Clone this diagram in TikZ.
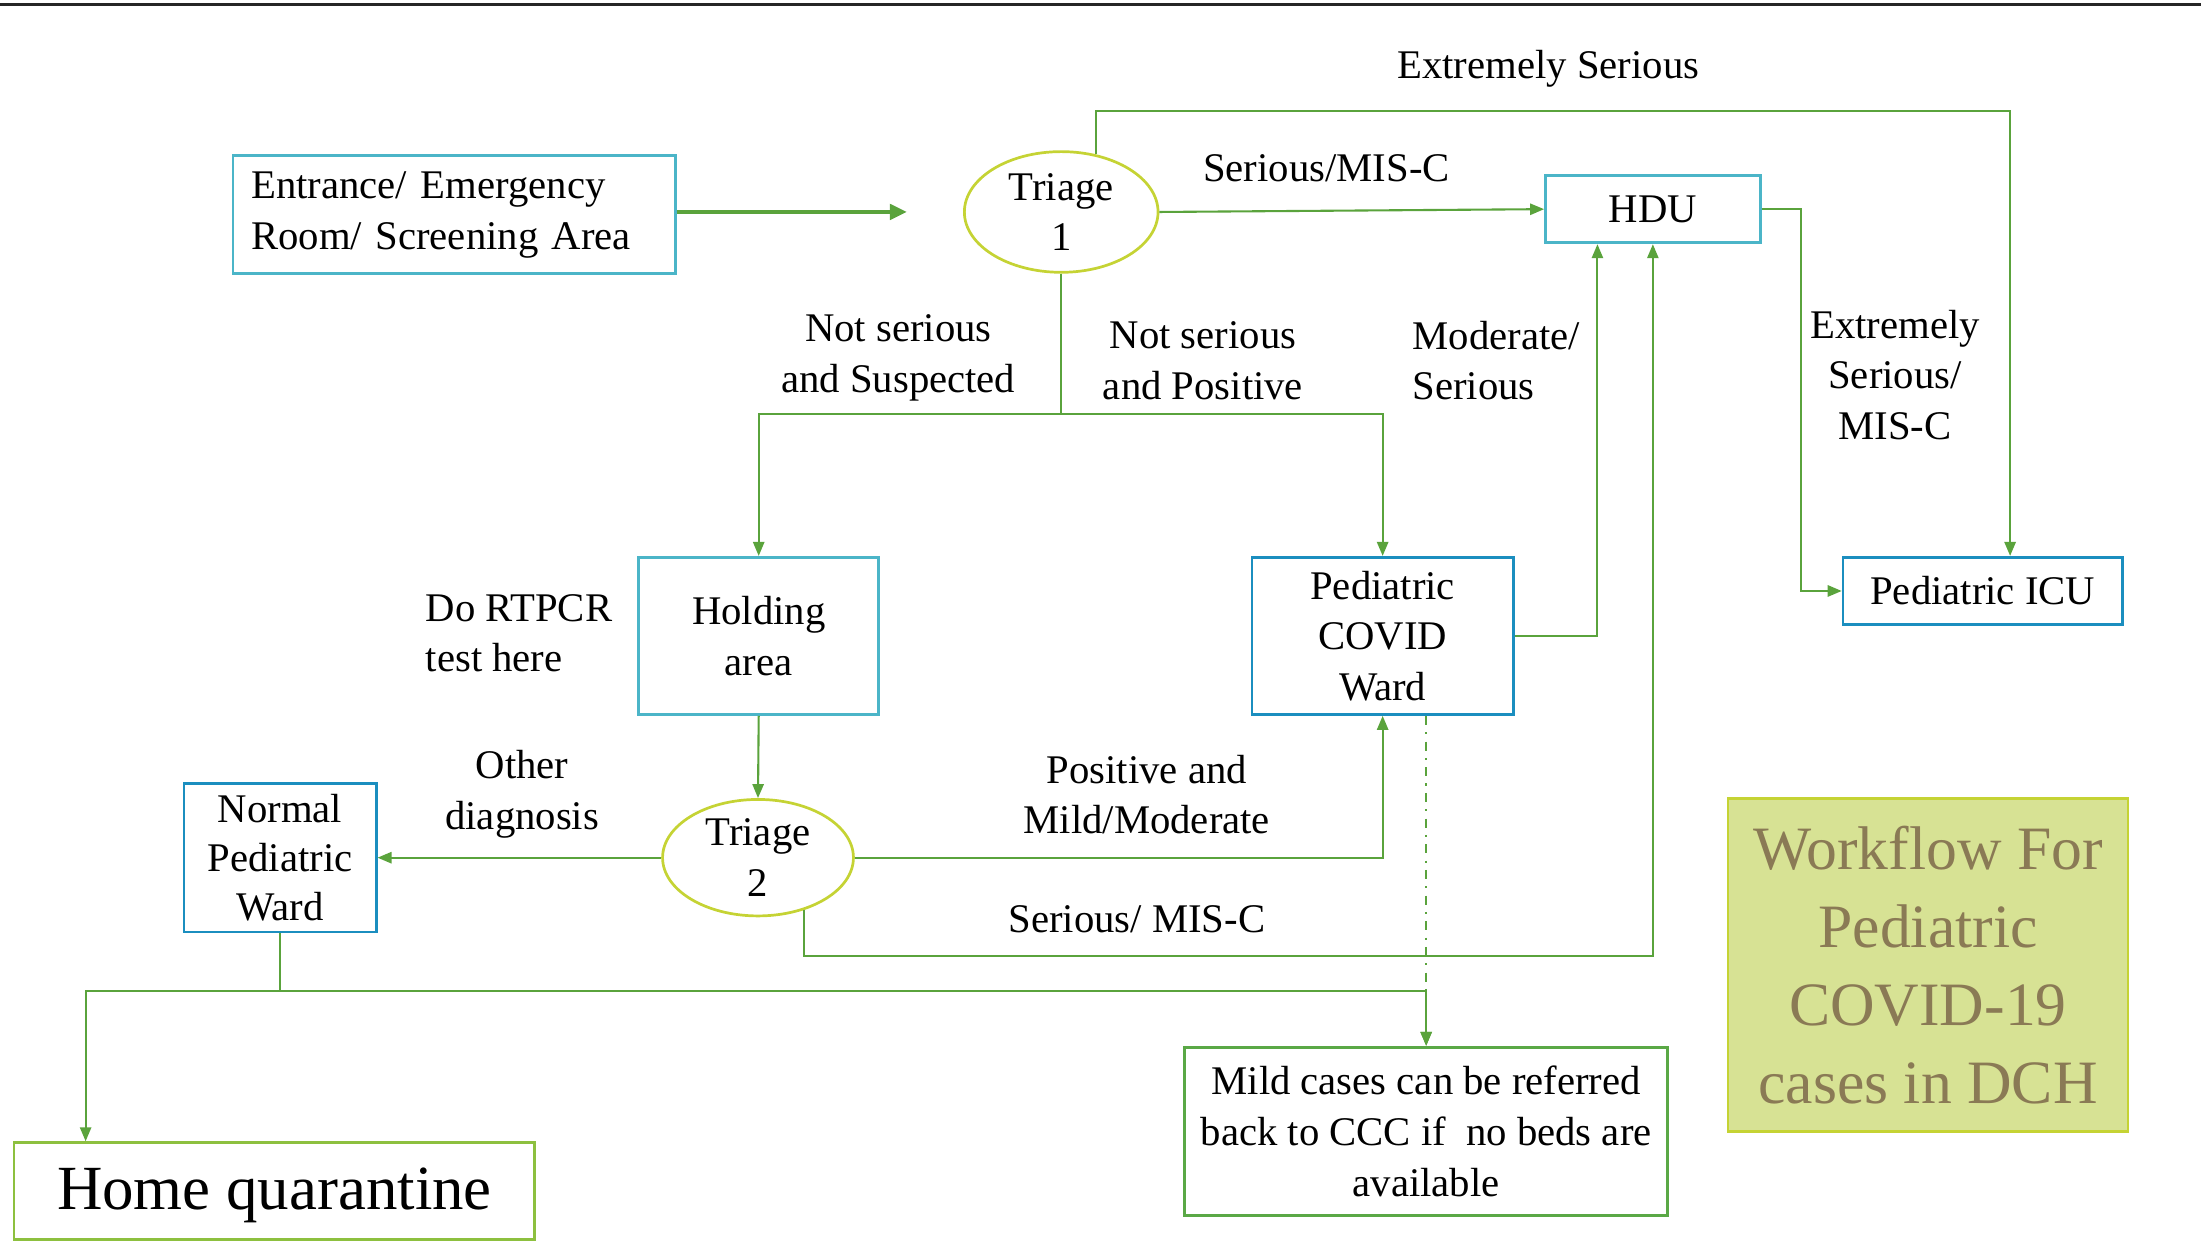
\documentclass[tikz,border=0pt]{standalone}
\usepackage{fontspec}
\setmainfont{Liberation Serif}
\usetikzlibrary{shapes.geometric,arrows.meta,calc}
\definecolor{greenC}{HTML}{5AA33C}
\definecolor{cyanC}{HTML}{4BB5C8}
\definecolor{blueC}{HTML}{1B8EBF}
\definecolor{ygC}{HTML}{C5D334}
\definecolor{homeC}{HTML}{8DC03F}
\definecolor{mildC}{HTML}{5AA846}
\definecolor{titleFill}{HTML}{D7E294}
\definecolor{titleText}{HTML}{8A7A55}
\begin{document}
\begin{tikzpicture}[x=0.02cm,y=-0.02cm,
  mainfont/.style={font=\fontsize{16.5}{20.5}\selectfont},
  txt/.style={mainfont, align=center, inner sep=0pt},
  cbox/.style={draw=cyanC, line width=1.1pt, inner sep=0pt, align=center, mainfont},
  bbox/.style={cbox, draw=blueC},
  gbox/.style={cbox, draw=mildC},
  tri/.style={ellipse, draw=ygC, line width=1.1pt, inner sep=0pt, align=center, mainfont},
  conn/.style={draw=greenC, line width=0.85pt, -{Triangle[length=0.2cm,width=0.16cm]}},
  ln/.style={draw=greenC, line width=0.85pt}
]
\useasboundingbox (0,0) rectangle (1568,894);
\draw[line width=1.3pt, black!85] (0,3) -- (1568,3);

% nodes
\node[cbox, minimum width=6.3cm, minimum height=1.68cm, align=left, text width=5.78cm] (entr) at (323.5,153) {Entrance/ Emergency\\Room/ Screening Area};
\node[tri, minimum width=2.76cm, minimum height=1.72cm] (tri1) at (756,151) {Triage\\1};
\node[cbox, minimum width=3.06cm, minimum height=0.96cm] (hdu) at (1177.5,149) {HDU};
\node[bbox, minimum width=3.98cm, minimum height=0.96cm] (icu) at (1412.5,421) {Pediatric ICU};
\node[cbox, minimum width=3.42cm, minimum height=2.24cm] (hold) at (540.5,453) {Holding\\area};
\node[bbox, minimum width=3.72cm, minimum height=2.24cm] (pcw) at (985,453) {Pediatric\\COVID\\Ward};
\node[tri, minimum width=2.72cm, minimum height=1.66cm] (tri2) at (540,611) {Triage\\2};
\node[bbox, minimum width=2.74cm, minimum height=2.12cm, font=\fontsize{16.5}{19.8}\selectfont] (npw) at (199.5,611) {Normal\\Pediatric\\Ward};
\node[cbox, draw=homeC, minimum width=7.42cm, minimum height=1.38cm, font=\fontsize{25.5}{30}\selectfont] (home) at (195.5,848.5) {\smash{\raisebox{-7.5pt}{Home quarantine}}};
\node[gbox, minimum width=6.88cm, minimum height=2.4cm] (mild) at (1016,806) {Mild cases can be referred\\back to CCC if\ \ no beds are\\available};
\node[draw=ygC, fill=titleFill, line width=1.1pt, minimum width=5.7cm, minimum height=4.74cm, inner sep=0pt, align=center, text=titleText, font=\fontsize{25}{31.75}\selectfont] (title) at (1373.5,687.5) {Workflow For\\Pediatric\\COVID-19\\cases in DCH};

% labels
\node[txt] (lES) at (1103,49) {Extremely Serious};
\node[txt] (lSM) at (945,120) {Serious/MIS-C};
\node[txt] (lNS) at (640,255) {Not serious\\and Suspected};
\node[txt] (lNP) at (857,257) {Not serious\\and Positive};
\node[txt, anchor=west, align=left] (lMS) at (1006,257) {Moderate/\\Serious};
\node[txt] (lESM) at (1350,267) {Extremely\\Serious/\\MIS-C};
\node[txt, anchor=west, align=left] (lRT) at (303,451) {Do RTPCR\\test here};
\node[txt] (lOD) at (372,566) {Other\\diagnosis};
\node[txt] (lPM) at (817,566) {Positive and\\Mild/Moderate};
\node[txt] (lSM2) at (810,655) {Serious/ MIS-C};

% helper coordinates
\coordinate (entrEnd) at (646,151);
\coordinate (esc) at (1432,79);
\coordinate (h2) at (1283,0);
\coordinate (jn) at (0,295);
\coordinate (s2) at (0,681);
\coordinate (hl) at (0,706);
\coordinate (hqx) at (61,0);

% connectors
\draw[draw=greenC, line width=1.4pt, -{Triangle[length=0.24cm,width=0.22cm]}] (entr.east |- entrEnd) -- (entrEnd);
\draw[conn] (tri1.east) -- (hdu.west);
\draw[conn] (tri1.59) |- (esc) -- (esc |- icu.north);
\draw[conn] (hdu.east) -- (hdu.east -| h2) |- (icu.west);
\draw[conn] (tri1.south) -- (tri1.south |- jn) -| (hold.north);
\draw[conn] (tri1.south) -- (tri1.south |- jn) -| (pcw.north);
\draw[conn] (pcw.east) -| ([xshift=-0.79cm]hdu.south);
\draw[conn] (hold.south) -- (tri2.north);
\draw[conn] (tri2.west) -- (npw.east);
\draw[conn] (tri2.east) -| (pcw.south);
\draw[conn] (tri2.311) -- (tri2.311 |- s2) -| (hdu.south);
\draw[conn] (npw.south) -- (npw.south |- hl) -| (hqx |- home.north);
\draw[conn] (npw.south) -- (npw.south |- hl) -| (mild.north);
\draw[conn, dash pattern=on 0.128cm off 0.104cm on 0.03cm off 0.104cm] (pcw.south -| mild.north) -- (mild.north);
\end{tikzpicture}
\end{document}
